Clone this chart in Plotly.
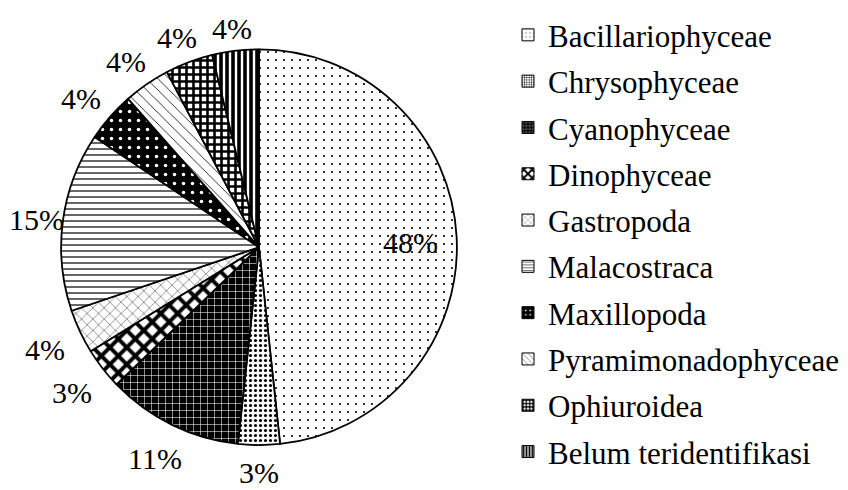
import math
import plotly.graph_objects as go

categories = ["Bacillariophyceae", "Chrysophyceae", "Cyanophyceae", "Dinophyceae",
              "Gastropoda", "Malacostraca", "Maxillopoda", "Pyramimonadophyceae",
              "Ophiuroidea", "Belum teridentifikasi"]
percentages = [48.3, 3.4, 11.1, 3.4, 3.6, 14.6, 4.1, 3.8, 3.9, 3.8]
label_inside = [True, False, False, False, False, False, False, False, False, False]

pattern_shapes = [".", ".", "+", "x", "x", "-", ".", "\\", "+", "|"]
pattern_fg = ["black", "black", "white", "black", "black", "black", "white", "black", "black", "black"]
pattern_bg = ["white", "white", "black", "white", "white", "white", "black", "white", "white", "white"]
pattern_size = [8, 5, 7, 12, 8, 6, 9, 8, 7, 6]
pattern_solidity = [0.06, 0.3, 0.15, 0.55, 0.1, 0.2, 0.12, 0.1, 0.6, 0.6]

W, H = 848, 490
cx, cy, r = 251, 234, 202          # pie centre / radius in figure pixels
PCT_FONT = 30
LEG_FONT = 31

pattern = dict(shape=pattern_shapes, fgcolor=pattern_fg, bgcolor=pattern_bg,
               size=pattern_size, solidity=pattern_solidity, fillmode="replace")

fig = go.Figure()
fig.add_trace(go.Pie(
    labels=categories,
    values=percentages,
    sort=False,
    direction="clockwise",
    rotation=0,
    textinfo="none",
    marker=dict(colors=pattern_bg, line=dict(color="black", width=1.8), pattern=pattern),
    domain=dict(x=[(cx - r) / W, (cx + r) / W], y=[(H - cy - r) / H, (H - cy + r) / H]),
    automargin=False,
    hoverinfo="label+percent",
    showlegend=False,
))

# legend entries (patterned swatches) as empty bar traces, one group each for spacing
for i, name in enumerate(categories):
    fig.add_trace(go.Bar(
        x=[None], y=[None], name=name, legendgroup=name, showlegend=True,
        marker=dict(color=pattern_bg[i], line=dict(color="black", width=1),
                    pattern=dict(shape=pattern_shapes[i], fgcolor=pattern_fg[i],
                                 bgcolor=pattern_bg[i], size=pattern_size[i] * 0.6,
                                 solidity=pattern_solidity[i], fillmode="replace")),
        hoverinfo="skip",
    ))

# percentage labels placed at each slice's mid-angle
total = sum(percentages)
annotations = []
cum = 0.0
for i, v in enumerate(percentages):
    mid = (cum + v / 2) / total * 2 * math.pi
    cum += v
    txt = f"{round(v / total * 100)}%"
    s, c = math.sin(mid), math.cos(mid)
    hw = (0.5 * (len(txt) - 1) + 0.833) * PCT_FONT / 2
    if label_inside[i]:
        d = 0.75 * r
    else:
        hh = 14
        d = r + 10 + hw * abs(s) + hh * abs(c)
    px = max(cx + d * s, hw + 1)
    py = cy - d * c + 3
    annotations.append(dict(x=px / W, y=1 - py / H, xref="paper", yref="paper",
                            text=txt, showarrow=False, xanchor="center", yanchor="middle",
                            height=PCT_FONT + 2, borderpad=0,
                            font=dict(family="Liberation Serif", size=PCT_FONT, color="black")))

fig.update_layout(
    width=W, height=H,
    margin=dict(l=0, r=0, t=0, b=0),
    paper_bgcolor="white",
    plot_bgcolor="white",
    font=dict(family="Liberation Serif", size=LEG_FONT, color="black"),
    xaxis=dict(visible=False, domain=[0.99, 1.0]),
    yaxis=dict(visible=False, domain=[0.0, 0.01]),
    showlegend=True,
    legend=dict(x=500 / W, y=1 + 10 / H, xanchor="left", yanchor="top",
                font=dict(family="Liberation Serif", size=LEG_FONT, color="black"),
                itemwidth=30, tracegroupgap=3, bgcolor="rgba(0,0,0,0)",
                maxheight=1.0),
    annotations=annotations,
)

fig.write_html("out.html")
